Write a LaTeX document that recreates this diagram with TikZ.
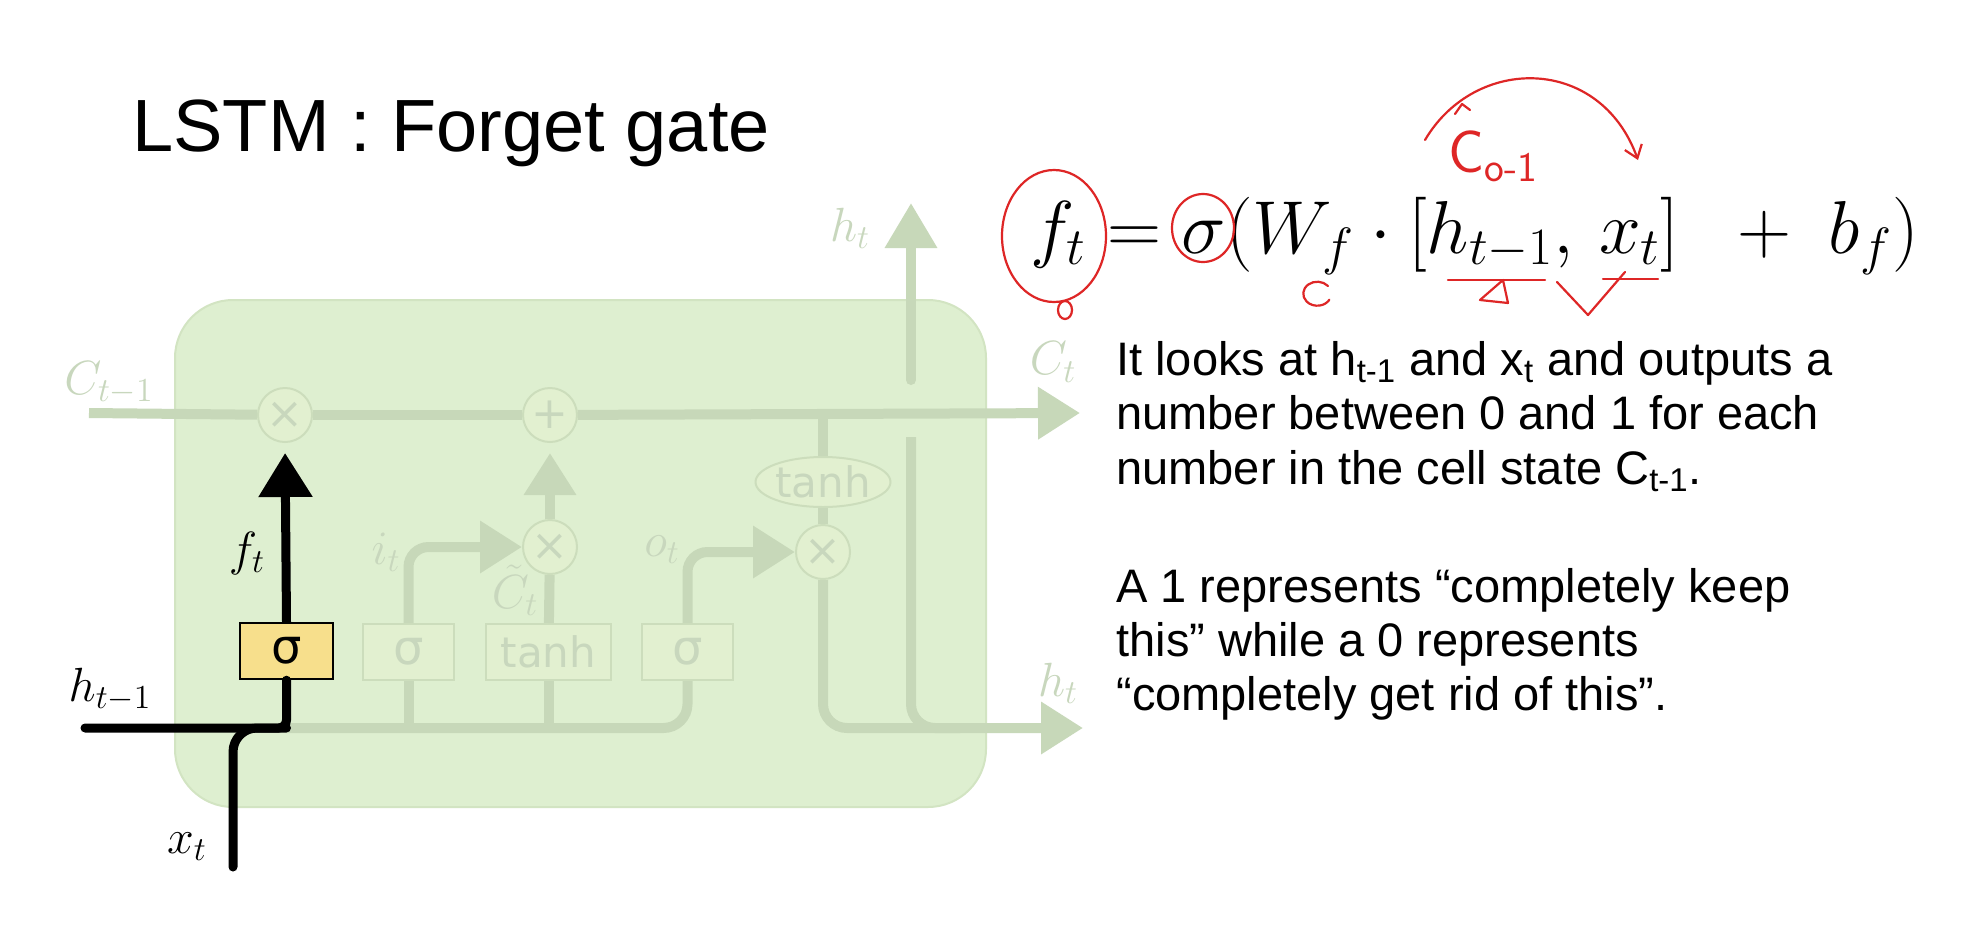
\documentclass[tikz,border=0pt]{standalone}
\usepackage{fix-cm}
\usepackage[no-math]{fontspec}
\newfontfamily\arial{Liberation Sans}
\newfontfamily\dejavu{DejaVu Sans}
\usetikzlibrary{arrows.meta,shapes.geometric}
\definecolor{boxfill}{RGB}{222,239,208}
\definecolor{boxedge}{RGB}{210,228,194}
\definecolor{gline}{RGB}{199,216,185}
\definecolor{glabel}{RGB}{200,215,189}
\definecolor{gate}{RGB}{226,240,208}
\definecolor{gateedge}{RGB}{204,221,188}
\definecolor{yel}{RGB}{247,223,140}
\definecolor{pen}{RGB}{222,38,38}
\tikzset{
  gatebox/.style={draw=gateedge, fill=gate, line width=1pt, minimum height=28pt, inner sep=0pt, text=glabel, font=\dejavu\fontsize{21}{24}\selectfont},
  op/.style={circle, draw=gateedge, fill=gate, line width=1pt, minimum size=27pt, inner sep=0pt, text=glabel, font=\dejavu\fontsize{22}{24}\selectfont},
  gl/.style={line width=5pt, draw=gline},
  bl/.style={line width=4.5pt, draw=black},
  gtip/.style={-{Triangle[width=25pt,length=21pt]}},
  lab/.style={text=glabel, inner sep=0pt, font=\fontsize{24}{28}\selectfont},
  blab/.style={text=black, inner sep=0pt, font=\fontsize{24}{28}\selectfont},
  para/.style={anchor=base west, inner sep=0pt, font=\arial\fontsize{23.5}{27}\selectfont},
  pencil/.style={draw=pen, line width=1.1pt, line cap=round, line join=round}
}
\begin{document}
\begin{tikzpicture}[x=0.5pt,y=-0.5pt]
\useasboundingbox (0,0) rectangle (1977,943);
\fill[white] (0,0) rectangle (1977,943);

% title
\node[anchor=base west, inner sep=0pt, font=\arial\fontsize{37}{44}\selectfont] (title) at (132,151) {LSTM : Forget gate};

% cell
\node[draw=boxedge, fill=boxfill, rounded corners=29pt, minimum width=405.5pt, minimum height=253.5pt, line width=1pt, inner sep=0pt] (cell) at (580.5,553.5) {};

% coordinates
\coordinate (cin) at (89,413);
\coordinate (cout) at (1080,413);
\coordinate (hin) at (85,728);
\coordinate (xin) at (233,867);
\coordinate (hout) at (1083,728);
\coordinate (htop) at (911,203);
\coordinate (hmid) at (911,380);
\coordinate (hlow) at (911,437);
\coordinate (hjoin) at (960,728);
\coordinate (tj) at (823,413);

% gates
\node[gatebox, fill=yel, draw=black, text=black, minimum width=46.5pt, line width=1.2pt, font=\dejavu\fontsize{24}{26}\selectfont] (sf) at (286.5,651) {σ};
\node[gatebox, minimum width=45.5pt, font=\dejavu\fontsize{24}{26}\selectfont] (si) at (408.5,652) {σ};
\node[gatebox, minimum width=62.5pt] (tc) at (548.5,652) {tanh};
\node[gatebox, minimum width=45.5pt, font=\dejavu\fontsize{24}{26}\selectfont] (so) at (687.5,652) {σ};

% pointwise ops
\node[op] (mf) at (285,415) {×};
\node[op] (ad) at (550,415) {+};
\node[op] (mi) at (550,547) {×};
\node[op] (mo) at (823,552) {×};
\node[ellipse, draw=gateedge, fill=gate, line width=1pt, minimum width=61pt, minimum height=25pt, inner sep=0pt, text=glabel, font=\dejavu\fontsize{21}{24}\selectfont] (te) at (823,482) {tanh};

% green connectors
\draw[gl] (cin) -- (mf);
\draw[gl] (mf) -- (ad);
\draw[gl, gtip] (ad) -- (cout);
\draw[gl, gtip, shorten >=5pt] (mi) -- (ad);
\draw[gl] (tc) -- (mi);
\draw[gl, gtip, rounded corners=10pt] (si.north) |- (mi.west);
\draw[gl, gtip, rounded corners=10pt] (so.north) |- (mo.west);
\draw[gl] (tj) -- (te);
\draw[gl] (te) -- (mo);
\draw[gl, gtip, rounded corners=12pt] (mo.south) |- (hout);
\draw[gl, line cap=round, -{Triangle[width=25pt,length=22.5pt]}] (hmid) -- (htop);
\draw[gl, rounded corners=12pt] (hlow) |- (hjoin);
\draw[gl, rounded corners=12pt] (sf.south |- hin) -| (so.south);
\draw[gl] (si.south) -- (si.south |- hin);
\draw[gl] (tc.south) -- (tc.south |- hin);

% black connectors
\draw[bl, line cap=round, rounded corners=4pt] (hin) -| (sf.south);
\draw[bl, line cap=round, rounded corners=12pt] (xin) |- (sf.south |- hin);
\draw[bl, -{Triangle[width=26pt,length=22pt]}, shorten >=5pt] (sf.north) -- (mf.south);

% labels
\node[lab] (lcin) at (109,383) {$C_{t-1}$};
\node[lab] (lct) at (1053,362) {$C_t$};
\node[lab] (lhtop) at (850,228) {$h_t$};
\node[lab] (lhout) at (1058,683) {$h_t$};
\node[lab] (lit) at (386,552) {$i_t$};
\node[lab] (lctil) at (515,590) {$\tilde{C}_t$};
\node[lab] (lot) at (662,550) {$o_t$};
\node[blab] (lft) at (247,553) {$f_t$};
\node[blab] (lhin) at (110,690) {$h_{t-1}$};
\node[blab] (lxt) at (187,847) {$x_t$};

% formula
\node[anchor=base west, inner sep=0pt, font=\fontsize{37.5}{42}\selectfont] (eq) at (1030,253) {$f_t=\sigma(W_f\cdot[h_{t-1},\,x_t]\;\;+\;b_f)$};

% explanation
\node[para] (p1) at (1116,375) {It looks at h\textsubscript{t-1} and x\textsubscript{t} and outputs a};
\node[para] (p2) at (1116,429) {number between 0 and 1 for each};
\node[para] (p3) at (1116,484) {number in the cell state C\textsubscript{t-1}.};
\node[para] (p4) at (1116,602) {A 1 represents “completely keep};
\node[para] (p5) at (1116,656) {this” while a 0 represents};
\node[para] (p6) at (1116,710) {“completely get rid of this”.};

% handwritten annotations
\draw[pencil] (1054,236) ellipse [x radius=26pt, y radius=33pt];
\draw[pencil] (1065,310) ellipse [x radius=3.5pt, y radius=4.5pt];
\draw[pencil] (1203,228) ellipse [x radius=15.5pt, y radius=17pt];
\draw[pencil] (1328,286) arc[start angle=40, end angle=330, x radius=7pt, y radius=6pt];
\draw[pencil] (1448,280) -- (1545,280);
\draw[pencil] (1503,280) -- (1480,300) -- (1508,303) -- cycle;
\draw[pencil] (1603,279) -- (1658,279);
\draw[pencil] (1557,282) -- (1588,315) -- (1625,272);
\draw[pencil, -{Straight Barb[length=6pt,width=9pt]}] (1425,140) .. controls (1475,55) and (1600,55) .. (1638,160);
\draw[pencil] (1455,114) -- (1462,104) -- (1470,110);
\node[anchor=base west, inner sep=0pt, text=pen, font=\sffamily\fontsize{30}{34}\selectfont] (cann) at (1448,172) {C\textsubscript{o-1}};
\end{tikzpicture}
\end{document}
